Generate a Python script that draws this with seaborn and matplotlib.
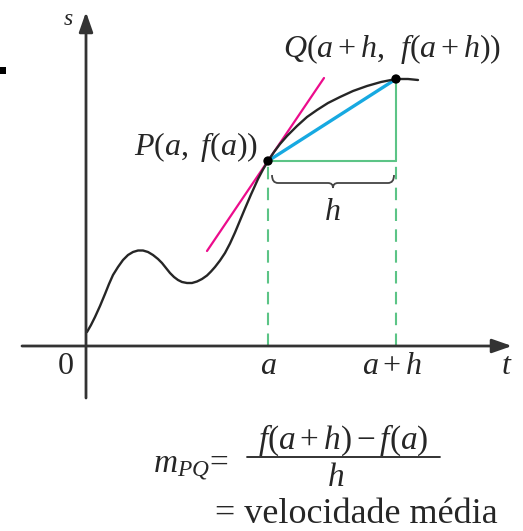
import matplotlib
matplotlib.use("Agg")
import numpy as np
import pandas as pd
import matplotlib.pyplot as plt
from matplotlib.path import Path
from matplotlib.patches import PathPatch, Rectangle
import seaborn as sns

# s = f(t) (t, s in the picture's own units)
curve_t = [0.01, 0.05, 0.09, 0.14, 0.19, 0.23, 0.27, 0.32, 0.37, 0.42, 0.47, 0.52,
           0.57, 0.62, 0.67, 0.72, 0.76, 0.80, 0.84, 0.88, 0.92, 0.96, 1.01, 1.06,
           1.11, 1.16, 1.21, 1.25, 1.29, 1.34, 1.39, 1.44, 1.49, 1.54, 1.59, 1.65,
           1.72, 1.77, 1.82, 1.88, 1.94, 2.01, 2.11, 2.21, 2.31, 2.42, 2.54, 2.67,
           2.81, 2.95, 3.10, 3.22, 3.32]
curve_s = [0.14, 0.21, 0.29, 0.40, 0.52, 0.62, 0.71, 0.79, 0.86, 0.91, 0.94, 0.955,
           0.955, 0.94, 0.91, 0.87, 0.83, 0.78, 0.73, 0.69, 0.66, 0.64, 0.63, 0.63,
           0.645, 0.67, 0.705, 0.745, 0.79, 0.855, 0.93, 1.025, 1.135, 1.255, 1.375, 1.515,
           1.67, 1.765, 1.85, 1.94, 2.02, 2.10, 2.20, 2.29, 2.36, 2.43, 2.49, 2.55,
           2.60, 2.64, 2.67, 2.67, 2.66]

t_a, t_ah = 1.82, 3.10            # a and a+h
s_p, s_q = 1.85, 2.67             # f(a) and f(a+h)
tangent_t = [1.21, 2.38]
tangent_s = [0.95, 2.68]

tick_pos = [-0.21, t_a, t_ah - 0.04]
tick_labels = ["$0$", "$a$", "$a+h$"]

sns.set_theme(style="white")
plt.rcParams["mathtext.fontset"] = "custom"
plt.rcParams["mathtext.rm"] = "Liberation Serif"
plt.rcParams["mathtext.it"] = "Liberation Serif:italic"
plt.rcParams["font.family"] = ["Liberation Serif", "DejaVu Serif"]

fig = plt.figure(figsize=(5.23, 5.31), dpi=100)
ax = fig.add_axes([0, 0, 1, 1])
ax.set_xlim(-0.86, 4.37)
ax.set_ylim(-1.85, 3.46)
ax.axis("off")

axis_col = "#333333"
green = "#5cc486"

# axes with arrows
ax.annotate("", xy=(4.26, 0), xytext=(-0.64, 0),
            arrowprops=dict(arrowstyle="-|>,head_length=1.0,head_width=0.35",
                            lw=2, color=axis_col, shrinkA=0, shrinkB=0))
ax.annotate("", xy=(0, 3.34), xytext=(0, -0.52),
            arrowprops=dict(arrowstyle="-|>,head_length=1.0,head_width=0.35",
                            lw=2, color=axis_col, shrinkA=0, shrinkB=0))

# green guides
ax.plot([t_a, t_a], [0, s_p], color=green, lw=1.5, ls=(0, (6, 4)))
ax.plot([t_ah, t_ah], [0, s_p], color=green, lw=1.5, ls=(0, (6, 4)))
ax.plot([t_ah, t_ah], [s_p, s_q], color=green, lw=1.5)
ax.plot([t_a, t_ah], [s_p, s_p], color=green, lw=1.5)

# tangent, secant, curve
sns.lineplot(x=tangent_t, y=tangent_s, ax=ax, color="#ec0c8c", lw=1.6,
             sort=False, estimator=None)
sns.lineplot(x=[t_a, t_ah], y=[s_p, s_q], ax=ax, color="#17a9e1", lw=2.4,
             sort=False, estimator=None)
curve = pd.DataFrame({"t": curve_t, "s": curve_s})
sns.lineplot(data=curve, x="t", y="s", ax=ax, color="#262626", lw=1.7,
             sort=False, estimator=None, solid_joinstyle="round")
sns.scatterplot(x=[t_a, t_ah], y=[s_p, s_q], ax=ax, color="black", s=45,
                edgecolor="none", zorder=5)

# brace under h
x0, x1 = t_a + 0.04, t_ah - 0.02
xm = (x0 + x1) / 2
yt, yb, yk = s_p - 0.14, s_p - 0.22, s_p - 0.27
verts = [(x0, yt), (x0, yb), (x0 + 0.06, yb), (xm - 0.05, yb), (xm, yb), (xm, yk),
         (xm, yb), (xm + 0.05, yb), (x1 - 0.06, yb), (x1, yb), (x1, yt)]
codes = [Path.MOVETO, Path.CURVE3, Path.CURVE3, Path.LINETO, Path.CURVE3, Path.CURVE3,
         Path.CURVE3, Path.CURVE3, Path.LINETO, Path.CURVE3, Path.CURVE3]
ax.add_patch(PathPatch(Path(verts, codes), fc="none", ec="#444444", lw=1.3))

# labels
fs = 23
ax.text((t_a + t_ah) / 2, s_p - 0.52, "$h$", ha="center", va="center", fontsize=fs)
ax.text(t_a - 0.10, s_p + 0.06, "$P(a,\\ f(a))$", ha="right", va="baseline",
        fontsize=fs)
ax.text(1.97, s_q + 0.22, "$Q(a+h,\\,\\ f(a+h))$", ha="left", va="baseline",
        fontsize=fs)
for x, lab in zip(tick_pos, tick_labels):
    ax.text(x, -0.28, lab, ha="center", va="baseline", fontsize=fs)
ax.text(4.21, -0.28, "$t$", ha="center", va="baseline", fontsize=fs)
ax.text(-0.18, 3.21, "$s$", ha="center", va="baseline", fontsize=17)

# formula
ax.text(0.67, -1.27, "$m_{PQ}$=", ha="left", va="baseline", fontsize=24)
ax.plot([1.61, 3.54], [-1.11, -1.11], color="#222222", lw=1.3)
ax.text(2.57, -1.03, "$f(a+h)-f(a)$", ha="center", va="baseline", fontsize=24)
ax.text(2.50, -1.40, "$h$", ha="center", va="baseline", fontsize=24)
ax.text(1.29, -1.77, "= velocidade média", ha="left", va="baseline", fontsize=26)

# small mark at the left edge
ax.add_patch(Rectangle((0, 1 - 74 / 531), 6 / 523, 7 / 531, transform=ax.transAxes,
                       color="black", lw=0))

fig.savefig("out.png", dpi=100)
